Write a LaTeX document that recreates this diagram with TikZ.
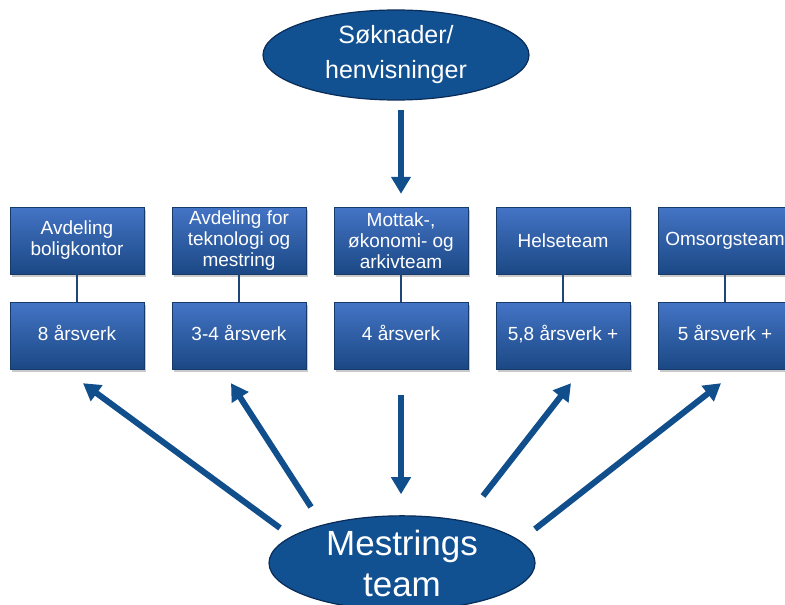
\documentclass[tikz,border=0pt]{standalone}
\usepackage{fontspec}
\setmainfont{Liberation Sans}
\usetikzlibrary{shapes.geometric,arrows.meta,shadows,calc}

\definecolor{ellfill}{RGB}{17,80,145}
\definecolor{ellline}{RGB}{10,44,88}
\definecolor{boxtop}{RGB}{68,116,198}
\definecolor{boxbot}{RGB}{27,72,132}
\definecolor{arrblue}{RGB}{16,78,140}
\definecolor{linkblue}{RGB}{28,70,120}

\tikzset{
  oval/.style={ellipse, fill=ellfill, draw=ellline, line width=1.2pt,
    inner sep=0pt, text=white, align=center},
  unit/.style={rectangle, minimum width=134pt, minimum height=67pt, inner sep=0pt,
    top color=boxtop, bottom color=boxbot, draw=boxbot!80!black, line width=0.4pt,
    text=white, align=center,
    font=\fontsize{19}{21}\selectfont,
    drop shadow={shadow xshift=1.5pt, shadow yshift=-2.5pt, opacity=0.35, fill=black!60}},
  staff/.style={unit, text height=14pt, text depth=4pt},
  flow/.style={draw=arrblue, line width=6pt,
    -{Triangle[width=19pt,length=17pt]}},
  link/.style={draw=linkblue, line width=1.4pt}
}

\begin{document}
\begin{tikzpicture}[x=1pt,y=-1pt]
  \clip (0,0) rectangle (785,605);
  \fill[white] (0,0) rectangle (785,605);

  % intake and the team at the bottom
  \node[oval, minimum width=266pt, minimum height=90pt,
        font=\fontsize{25}{35}\selectfont] (intake) at (396,55)
        {Søknader/\\henvisninger};
  \node[oval, minimum width=266pt, minimum height=92pt,
        font=\fontsize{35}{41}\selectfont] (team) at (402,563)
        {Mestrings\\team};

  % departments and their staffing
  \node[unit] (d1) at (77,240.5)  {Avdeling\\boligkontor};
  \node[unit] (d2) at (239,240.5) {Avdeling for\\teknologi og\\mestring};
  \node[unit] (d3) at (401,240.5) {Mottak-,\\økonomi- og\\arkivteam};
  \node[unit] (d4) at (563,240.5) {Helseteam};
  \node[unit] (d5) at (725,240.5) {Omsorgsteam};

  \node[staff] (s1) at (77,335.5)  {8 årsverk};
  \node[staff] (s2) at (239,335.5) {3-4 årsverk};
  \node[staff] (s3) at (401,335.5) {4 årsverk};
  \node[staff] (s4) at (563,335.5) {5,8 årsverk +};
  \node[staff] (s5) at (725,335.5) {5 årsverk +};

  \foreach \i in {1,...,5} {
    \draw[link] (d\i.south) -- (s\i.north);
  }

  % intake flows into reception
  \draw[flow, shorten <=9pt, shorten >=13pt] (d3.north |- intake.south) -- (d3.north);
  % reception hands over to the team
  \draw[flow, shorten <=26pt, shorten >=21pt] (s3.south) -- (s3.south |- team.north);

  % the team reaches out to the other units
  \coordinate (a1) at ($(team.center)+(-122,-35)$);
  \coordinate (b1) at ($(s1.south)+(6,14)$);
  \coordinate (a2) at ($(team.center)+(-91,-56)$);
  \coordinate (b2) at ($(s2.south)+(-8,14)$);
  \coordinate (a4) at ($(team.center)+(81,-67)$);
  \coordinate (b4) at ($(s4.south)+(8,14)$);
  \coordinate (a5) at ($(team.center)+(133,-34)$);
  \coordinate (b5) at ($(s5.south)+(-4,14)$);
  \foreach \i in {1,2,4,5} {
    \draw[flow] (a\i) -- (b\i);
  }
\end{tikzpicture}
\end{document}
